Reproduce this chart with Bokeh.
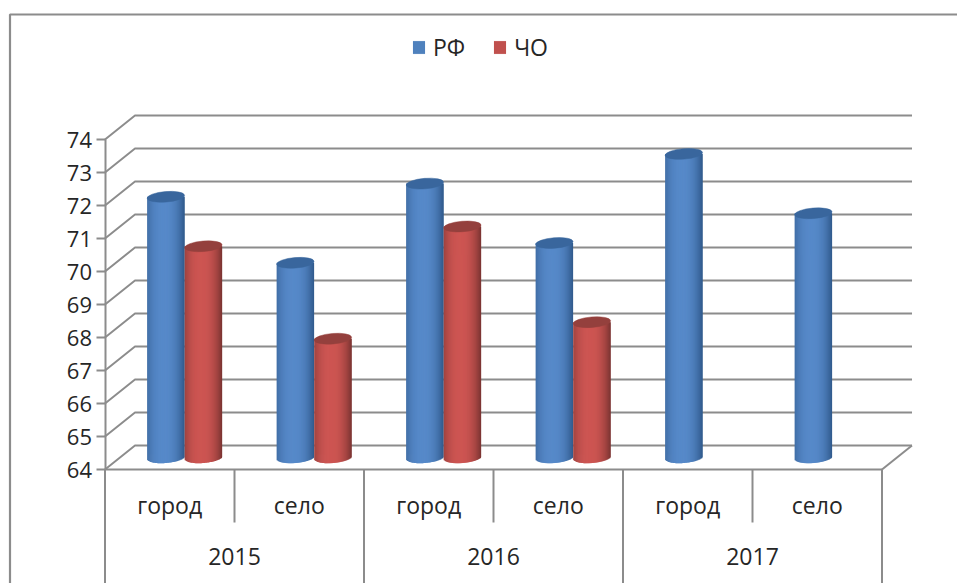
import math
from bokeh.plotting import figure
from bokeh.embed import file_html
from bokeh.resources import INLINE
from bokeh.models import (ColumnDataSource, LinearAxis, FixedTicker, Legend, LegendItem,
                          Range1d)

# ---- data ----
groups = ["2015", "2016", "2017"]
categories = ["город", "село", "город", "село", "город", "село"]
rf_values = [71.9, 69.9, 72.3, 70.5, 73.2, 71.4]
cho_values = [70.4, 67.6, 71.0, 68.1, None, None]
y_ticks = [64, 65, 66, 67, 68, 69, 70, 71, 72, 73, 74]
series_names = ["РФ", "ЧО"]

# ---- layout (pixels of the reference) ----
W, H = 957, 583
PX_U = 129.5            # px per category
PX_V = 33.0             # px per unit of value
X0_PAGE, Y0_PAGE = 104.5, 469.0
DEPTH_X, DEPTH_Y = 30.0 / PX_U, 24.0 / PX_V
BAR_DEPTH = 12.0 / PX_V
BAR_W = 37.5 / PX_U
BAR_C = [0.47, 0.76]
N_SLICES = 38
OVERLAP = 0.8 / PX_U
FONT = "Open Sans"
FONT_SIZE = "23px"
TXT = "#262626"
GRID = "#8c8c8c"
EDGE = [(0x2f, 0x58, 0x8a), (0x78, 0x33, 0x31)]
MID = [(0x56, 0x89, 0xc9), (0xcd, 0x55, 0x52)]
CAP = [("#39669d"), ("#94403d")]
LEG = ["#4f81bd", "#c0504d"]

x_start = -X0_PAGE / PX_U
x_end = (W - X0_PAGE) / PX_U
y_top = y_ticks[0] + Y0_PAGE / PX_V
y_bot = y_ticks[0] - (H - Y0_PAGE) / PX_V
n = len(categories)

p = figure(width=W, height=H, output_backend="svg", toolbar_location=None,
           x_range=Range1d(x_start, x_end), y_range=Range1d(y_bot, y_top),
           min_border=0, outline_line_color=None, x_axis_location=None, y_axis_location=None,
           tools="")
p.grid.visible = False

# outer chart frame
border_left = x_start + 9.5 / PX_U
border_top = y_top - 14 / PX_V
p.multi_line([[border_left, border_left, x_end]], [[y_bot, border_top, border_top]],
             line_color=GRID, line_width=2.2)

# walls: gridlines
xs, ys = [], []
for t in y_ticks:
    xs.append([0, DEPTH_X, n + DEPTH_X])
    ys.append([t, t + DEPTH_Y, t + DEPTH_Y])
xs.append([n, n + DEPTH_X])
ys.append([y_ticks[0], y_ticks[0] + DEPTH_Y])
p.multi_line(xs, ys, line_color=GRID, line_width=2)

# category dividers
minor_low = y_ticks[0] - 53 / PX_V
dx, dy = [], []
for i in range(n + 1):
    dx.append([i, i])
    dy.append([y_ticks[0], y_bot if i % 2 == 0 else minor_low])
p.multi_line(dx, dy, line_color=GRID, line_width=2)


def shade(s, t):
    k = 1 - min(1.0, abs(t + 0.12) / 1.12) ** 2.4
    return "#%02x%02x%02x" % tuple(round(EDGE[s][c] + (MID[s][c] - EDGE[s][c]) * k) for c in range(3))


base_y = y_ticks[0] + BAR_DEPTH
legend_rs = [None, None]
for s, vals in enumerate([rf_values, cho_values]):
    cx = [i + BAR_C[s] for i, v in enumerate(vals) if v is not None]
    top = [v + BAR_DEPTH for v in vals if v is not None]
    legend_rs[s] = p.vbar(x=cx, width=BAR_W * 0.9, bottom=base_y + 3 / PX_V, top=top,
                          fill_color=LEG[s], line_color=LEG[s], line_width=0.1)

for i in range(n):
    for s, vals in enumerate([rf_values, cho_values]):
        v = vals[i]
        if v is None:
            continue
        c = i + BAR_C[s]
        L, R, B, T, C = [], [], [], [], []
        for k in range(N_SLICES):
            t0 = -1 + 2 * k / N_SLICES
            t1 = t0 + 2 / N_SLICES
            tm = (t0 + t1) / 2
            L.append(c + t0 * BAR_W / 2)
            R.append(c + t1 * BAR_W / 2 + (OVERLAP if k < N_SLICES - 1 else 0))
            B.append(base_y - (5.5 * math.sqrt(max(0, 1 - tm * tm)) - 1.6 * tm) / PX_V)
            T.append(v + BAR_DEPTH)
            C.append(shade(s, tm))
        src = ColumnDataSource(dict(left=L, right=R, bottom=B, top=T, color=C))
        p.quad(left="left", right="right", bottom="bottom", top="top", source=src,
               fill_color="color", line_color=None)
        p.ellipse(x=[c], y=[v + BAR_DEPTH], width=BAR_W * PX_U, height=10.5, angle=0.08,
                  width_units="screen", height_units="screen",
                  fill_color=CAP[s], line_color=CAP[s], line_width=0.5)

# value axis
ya = LinearAxis(fixed_location=0, ticker=FixedTicker(ticks=y_ticks), bounds=(y_ticks[0], y_ticks[-1]))
ya.axis_line_color = GRID
ya.axis_line_width = 2
ya.major_tick_line_color = GRID
ya.major_tick_line_width = 2
ya.major_tick_out = 9
ya.major_tick_in = 0
ya.minor_tick_line_color = None
ya.major_label_standoff = 4
ya.major_label_text_font = FONT
ya.major_label_text_font_size = "22px"
ya.major_label_text_color = TXT
p.add_layout(ya, "left")

# category axis
cat_pos = [i + 0.5 for i in range(n)]
xa = LinearAxis(fixed_location=y_ticks[0], ticker=FixedTicker(ticks=cat_pos), bounds=(0, n),
                major_label_overrides={pos: lab for pos, lab in zip(cat_pos, categories)})
xa.axis_line_color = GRID
xa.axis_line_width = 2
xa.major_tick_line_color = None
xa.minor_tick_line_color = None
xa.major_label_standoff = 13
xa.major_label_text_font = FONT
xa.major_label_text_font_size = FONT_SIZE
xa.major_label_text_color = TXT
p.add_layout(xa, "below")

# year axis
grp_pos = [2 * i + 1 for i in range(len(groups))]
ga = LinearAxis(fixed_location=y_ticks[0], ticker=FixedTicker(ticks=grp_pos),
                major_label_overrides={pos: lab for pos, lab in zip(grp_pos, groups)})
ga.axis_line_color = None
ga.major_tick_line_color = None
ga.minor_tick_line_color = None
ga.major_label_standoff = 72
ga.major_label_text_font = FONT
ga.major_label_text_font_size = FONT_SIZE
ga.major_label_text_color = TXT
p.add_layout(ga, "below")

legend = Legend(items=[LegendItem(label=series_names[i], renderers=[legend_rs[i]]) for i in range(2)],
                orientation="horizontal", location=(411, H - 63),
                glyph_width=15, glyph_height=16, label_standoff=7, spacing=27,
                padding=0, margin=0, border_line_color=None, background_fill_alpha=0,
                label_text_font=FONT, label_text_font_size=FONT_SIZE, label_text_color=TXT)
p.add_layout(legend)

open("out.html", "w").write(file_html(p, INLINE))
